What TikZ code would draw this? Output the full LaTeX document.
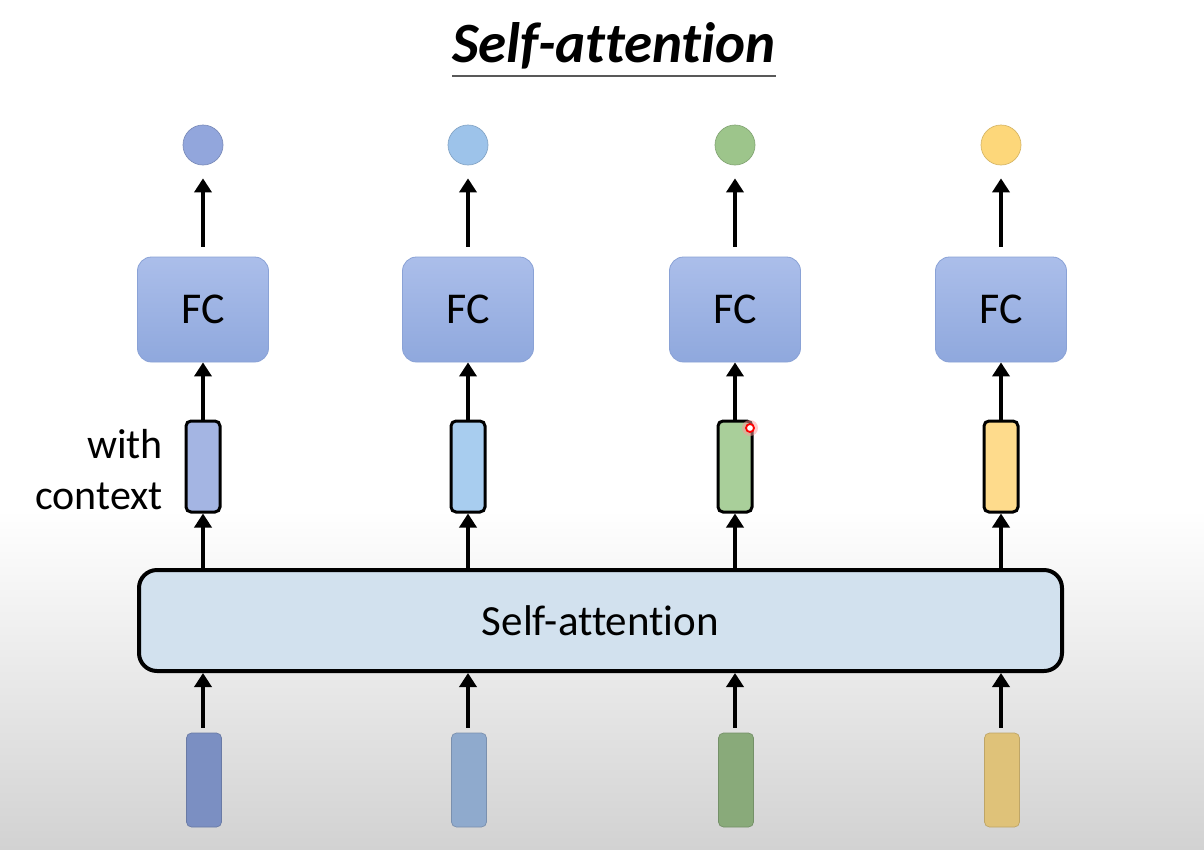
\documentclass[tikz,border=0pt]{standalone}
\usepackage{fontspec}
\setmainfont[Ligatures={NoCommon}]{Carlito}
\usetikzlibrary{arrows.meta,calc}
\definecolor{oA}{HTML}{92A6DC}\definecolor{oB}{HTML}{9DC3EA}\definecolor{oC}{HTML}{9DC58B}\definecolor{oD}{HTML}{FDD77A}
\definecolor{hA}{HTML}{A4B5E3}\definecolor{hB}{HTML}{A8CDEF}\definecolor{hC}{HTML}{A9CF9A}\definecolor{hD}{HTML}{FEDB8C}
\definecolor{iA}{HTML}{7B8FC2}\definecolor{iB}{HTML}{8FAACD}\definecolor{iC}{HTML}{89AA7A}\definecolor{iD}{HTML}{DFC279}
\definecolor{fcTop}{HTML}{ABBEEA}\definecolor{fcBot}{HTML}{8FA8DD}\definecolor{fcLine}{HTML}{8AA2D6}
\definecolor{saFill}{HTML}{D2E1EE}\definecolor{bgGray}{HTML}{D2D2D2}
\begin{document}
\begin{tikzpicture}[x=1pt,y=-1pt,
  arr/.style={line width=4.5pt,-{Triangle[length=14pt,width=17pt]}},
  outcirc/.style={circle,minimum size=40pt,inner sep=0pt,line width=0.7pt},
  fcbox/.style={rectangle,rounded corners=14pt,minimum width=131pt,minimum height=105pt,
    top color=fcTop,bottom color=fcBot,draw=fcLine,line width=0.8pt,font=\fontsize{44}{50}\selectfont},
  ctxvec/.style={rectangle,rounded corners=5pt,minimum width=34pt,minimum height=91pt,draw=black,line width=3pt,inner sep=0pt},
  invec/.style={rectangle,rounded corners=5pt,minimum width=35pt,minimum height=94pt,line width=0.7pt,inner sep=0pt},
  sabox/.style={rectangle,rounded corners=18pt,minimum width=923pt,minimum height=101pt,draw=black,line width=4pt,fill=saFill,font=\fontsize{43}{50}\selectfont},
  lbl/.style={font=\fontsize{42}{51}\selectfont,align=right,inner sep=0pt},
  ttl/.style={font=\fontsize{57}{60}\selectfont\bfseries\itshape,inner sep=0pt}
]
\useasboundingbox (0,0) rectangle (1204,849);
\fill[white] (0,0) rectangle (1204,510);
\shade[top color=white,bottom color=bgGray] (0,510) rectangle (1204,849);

\node[ttl,anchor=base] (title) at (614,62) {Self-attention};
\draw[gray!70!black,line width=1.2pt] (452,76) coordinate (ul1) -- (776,76) coordinate (ul2);

\node[sabox] (sa) at (600.5,620.5) {Self-attention};

\foreach \i/\cx/\oc/\hc/\ic in {1/203/oA/hA/iA,2/468/oB/hB/iB,3/735/oC/hC/iC,4/1001/oD/hD/iD}{
  \node[outcirc,fill=\oc,draw=\oc!85!black] (o\i) at (\cx,145) {};
  \node[fcbox] (f\i) at (\cx,309.5) {\raisebox{-3pt}{FC}};
  \node[ctxvec,fill=\hc] (h\i) at (\cx,466.5) {};
  \node[invec,fill=\ic,draw=\ic!85!black] (x\i) at (\cx+1,780) {};
  \draw[arr] ($(f\i.north)+(0,-10)$) -- ($(o\i.south)+(0,13)$);
  \draw[arr] (h\i.north) -- (f\i.south);
  \draw[arr] (sa.north -| h\i) -- (h\i.south);
  \draw[arr] ($(x\i.north)+(-1,-5)$) -- (sa.south -| f\i);
}

\node[lbl,anchor=north east] (ctx) at (163,429) {with\\context};

% laser pointer
\fill[red!40,opacity=0.5] (750,428) circle (8);
\draw[red,line width=1.8pt,fill=white] (750,428) circle (4);
\end{tikzpicture}
\end{document}
